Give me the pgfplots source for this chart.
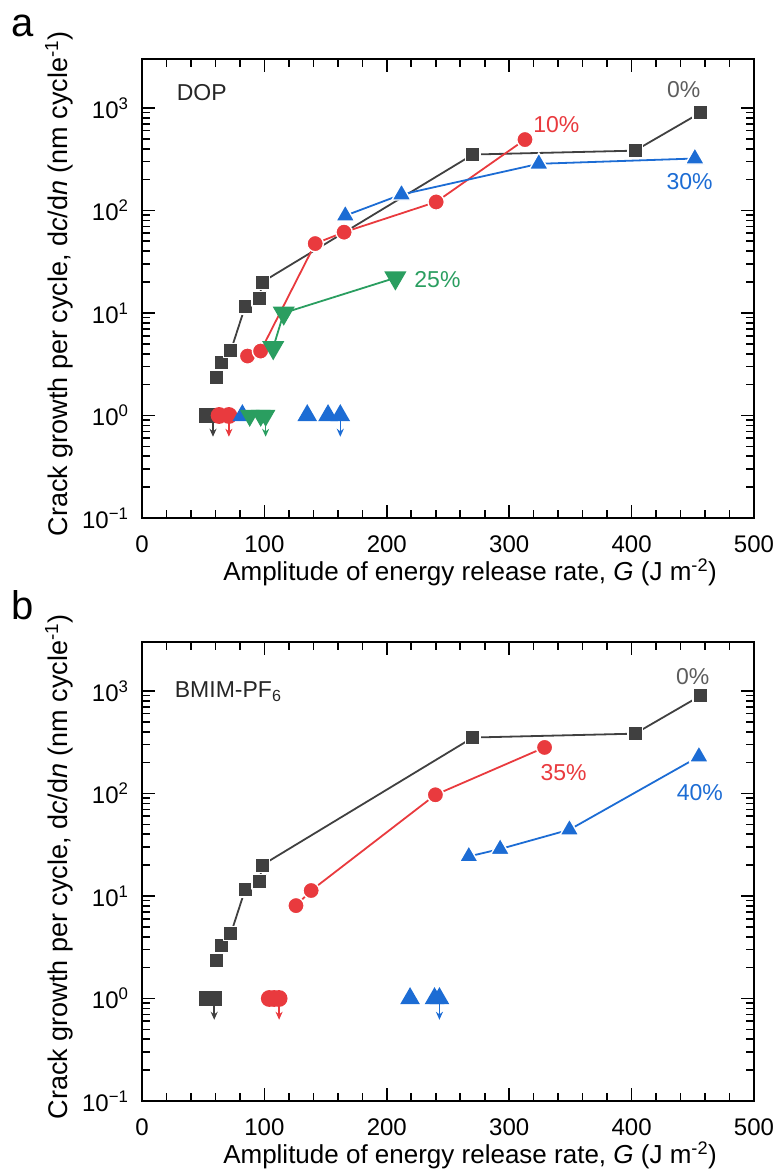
\documentclass[border=0pt]{standalone}
\usepackage{fontspec}
\setmainfont{Liberation Sans}
\usepackage{pgfplots}
\usepackage{pgfplotstable}
\pgfplotsset{compat=1.18}
\usetikzlibrary{arrows.meta}

\definecolor{cgray}{RGB}{64,64,64}
\definecolor{cred}{RGB}{233,58,62}
\definecolor{cblue}{RGB}{28,108,212}
\definecolor{cgreen}{RGB}{42,158,96}

% 0% series, the same in both panels
\pgfplotstableread{
x y
60.6 2.37
64.6 3.3
72.6 4.3
84.2 11.5
95.9 13.8
98.2 20
270.3 351
402.8 383
456 894
}\zerotab

\pgfplotsset{
 width=612pt, height=459pt, scale only axis,
 xmin=0, xmax=500, ymin=0.1, ymax=3000,
 xtick={0,100,200,300,400,500},
 minor x tick num=4,
 tick align=inside,
 major tick length=13pt, minor tick length=8pt,
 every tick/.style={line width=1.6pt, black},
 axis line style={line width=2.4pt},
 tick label style={font=\fontsize{24}{28}\selectfont},
 xticklabel style={yshift=-14pt},
 yticklabel style={xshift=-10pt},
 xlabel style={font=\fontsize{26}{31}\selectfont, at={(axis description cs:0.536,-0.118)}, anchor=center},
 ylabel style={font=\fontsize{27}{32}\selectfont, at={(axis description cs:-0.1356,0.51)}, anchor=center},
 % white rim round the joined marks leaves a small gap to the lines
 rim/.style={mark options={solid, draw=white, line width=1.4pt, line join=round}},
 mksq/.style={cgray, line width=1.8pt, mark=square*, mark size=6.5pt, mark options={solid}},
 mkci/.style={cred, line width=1.8pt, mark=*, mark size=7.5pt, mark options={solid}},
 mktu/.style={cblue, line width=1.8pt, mark=triangle*, mark size=9.6pt, mark options={solid}},
 mktd/.style={cgreen, line width=1.8pt, mark=triangle*, mark size=9.6pt, mark options={solid, rotate=180}},
 mkdn/.style={line width=1.5pt, -{Stealth[length=8pt,width=7pt]}},
}
\tikzset{plab/.style={font=\fontsize{23}{27}\selectfont},
 plet/.style={font=\fontsize{40}{46}\selectfont, anchor=base}}

\begin{document}
\begin{tikzpicture}
\path[use as bounding box] (-142pt,-654pt) rectangle (635pt,518pt);

% panel a: DOP
\begin{semilogyaxis}[at={(0pt,0pt)}, anchor=south west, clip=false,
  xticklabels={0,100,200,300,400,500},
  ytick={0.1,1,10,100,1000},
  yticklabels={10\textsuperscript{−1},10\textsuperscript{0},10\textsuperscript{1},10\textsuperscript{2},10\textsuperscript{3}},
  xlabel={Amplitude of energy release rate, \textit{G} (J m\textsuperscript{-2})},
  ylabel={Crack growth per cycle, d\textit{c}/d\textit{n} (nm cycle\textsuperscript{-1})}]
\addplot[cgray, mkdn] coordinates {(58,1)(58,0.62)};
\addplot[cred, mkdn] coordinates {(71,1)(71,0.62)};
\addplot[cgreen, mkdn] coordinates {(101,1)(101,0.62)};
\addplot[cblue, mkdn] coordinates {(162,1)(162,0.62)};

\addplot[mksq, rim, mark size=7.2pt] table {\zerotab};
\addplot[mksq, only marks] coordinates {(53,1)(58,1)};

\addplot[mkci, rim, mark size=8.2pt] coordinates {(86.2,3.8)(96.9,4.25)(141.5,47.5)(165.1,61.4)(240.3,121)(312.9,491)};
\addplot[mkci, only marks] coordinates {(63,1)(71,1)};

\addplot[mktu, rim, mark size=11pt] coordinates {(166.1,89)(212,143)(324.2,285)(451.7,321)};
\addplot[mktu, only marks] coordinates {(82,1)(135,1)(152,1)(162,1)};

\addplot[mktd, rim, mark size=11pt, mark options={rotate=180}] coordinates {(107.2,4.6)(115.8,10)(207,22)};
\addplot[mktd, only marks] coordinates {(88,1)(97,1)(101,1)};

\node[plab, anchor=west, black!85] at (axis cs:25.6,1400) {DOP};
\node[plab, cgray!85] at (axis cs:442.5,1510) {0\%};
\node[plab, cred] at (axis cs:338.5,688) {10\%};
\node[plab, cblue] at (axis cs:447.4,193) {30\%};
\node[plab, cgreen, anchor=west] at (axis cs:219.7,21.2) {25\%};
\node[plet] at (axis description cs:-0.195,1.048) {a};
\end{semilogyaxis}

% panel b: BMIM-PF6
\begin{semilogyaxis}[at={(0pt,-583pt)}, anchor=south west, clip=false,
  xticklabels={0,100,200,300,400,500},
  ytick={0.1,1,10,100,1000},
  yticklabels={10\textsuperscript{−1},10\textsuperscript{0},10\textsuperscript{1},10\textsuperscript{2},10\textsuperscript{3}},
  xlabel={Amplitude of energy release rate, \textit{G} (J m\textsuperscript{-2})},
  ylabel={Crack growth per cycle, d\textit{c}/d\textit{n} (nm cycle\textsuperscript{-1})}]
\addplot[cgray, mkdn] coordinates {(59,1)(59,0.62)};
\addplot[cred, mkdn] coordinates {(112,1)(112,0.62)};
\addplot[cblue, mkdn] coordinates {(243,1)(243,0.62)};

\addplot[mksq, rim, mark size=7.2pt] table {\zerotab};
\addplot[mksq, only marks] coordinates {(53,1)(59,1)};

\addplot[mkci, rim, mark size=8.2pt] coordinates {(125.8,8.05)(138.2,11.3)(239.7,97)(328.9,281)};
\addplot[mkci, only marks] coordinates {(104,1)(108,1)(112,1)};

\addplot[mktu, rim, mark size=11pt] coordinates {(267,24.3)(292.6,28.7)(349.2,44.3)(455,229)};
\addplot[mktu, only marks] coordinates {(219,1)(239,1)(243,1)};

\node[plab, anchor=west, black!85] at (axis cs:24,985) {BMIM-PF\textsubscript{6}};
\node[plab, cgray!85] at (axis cs:450,1380) {0\%};
\node[plab, cred] at (axis cs:344.5,158) {35\%};
\node[plab, cblue] at (axis cs:455.7,102) {40\%};
\node[plet] at (axis description cs:-0.195,1.048) {b};
\end{semilogyaxis}
\end{tikzpicture}
\end{document}
